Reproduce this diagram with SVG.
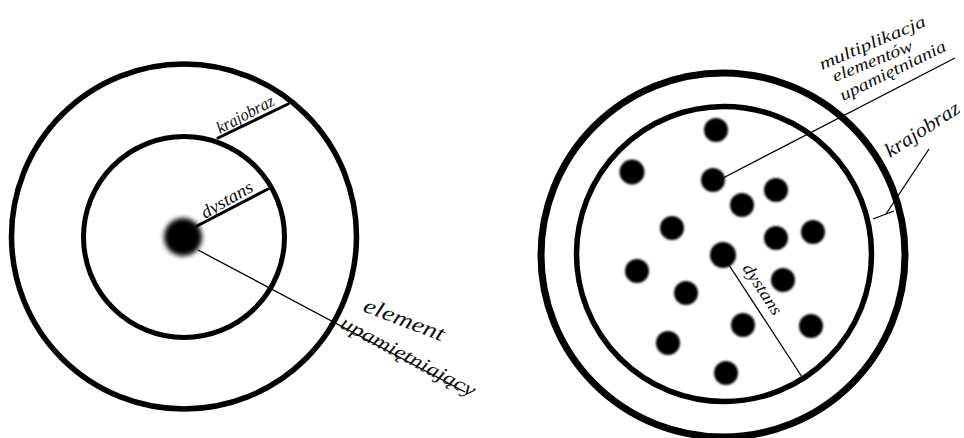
<svg xmlns="http://www.w3.org/2000/svg" width="964" height="438" viewBox="0 0 964 438">
<defs>
<style>
.ring{fill:none;stroke:#000}
.thick{stroke:#000;stroke-width:3;fill:none;stroke-linecap:round}
.thin{stroke:#000;stroke-width:1.3;fill:none}
.hand{font-family:"Liberation Serif","DejaVu Serif",serif;font-style:italic;fill:#111}
.dot{fill:#000}
</style>
<filter id="blurBig" x="-50%" y="-50%" width="200%" height="200%"><feGaussianBlur stdDeviation="2.5"/></filter>
<filter id="blurSmall" x="-50%" y="-50%" width="200%" height="200%"><feGaussianBlur stdDeviation="1.3"/></filter>
</defs>
<rect width="964" height="438" fill="#fff"/>

<g id="left-outer"><circle class="ring" cx="184" cy="236.5" r="172.5" stroke-width="5.5"/></g>
<g id="left-inner"><circle class="ring" cx="184" cy="237" r="100.5" stroke-width="5"/></g>
<g id="left-element"><circle class="dot" cx="183" cy="237" r="19" filter="url(#blurBig)"/></g>

<g id="right-outer"><circle class="ring" cx="723" cy="255" r="182" stroke-width="7"/></g>
<g id="right-inner"><circle class="ring" cx="724" cy="254" r="147.5" stroke-width="5.5"/></g>
<g id="right-elements" filter="url(#blurSmall)">
<circle class="dot" cx="716" cy="130" r="12"/>
<circle class="dot" cx="632" cy="172" r="12.5"/>
<circle class="dot" cx="713" cy="180" r="12"/>
<circle class="dot" cx="776" cy="190" r="12"/>
<circle class="dot" cx="742" cy="205" r="12"/>
<circle class="dot" cx="672" cy="228" r="12"/>
<circle class="dot" cx="776" cy="238" r="12"/>
<circle class="dot" cx="813" cy="232" r="12"/>
<circle class="dot" cx="723" cy="255" r="13"/>
<circle class="dot" cx="637" cy="271" r="12"/>
<circle class="dot" cx="783" cy="280" r="12"/>
<circle class="dot" cx="686" cy="293" r="12"/>
<circle class="dot" cx="743" cy="325" r="12"/>
<circle class="dot" cx="811" cy="326" r="12"/>
<circle class="dot" cx="668" cy="343" r="12"/>
<circle class="dot" cx="726" cy="373" r="12"/>
</g>

<g id="connectors">
<line class="thick" x1="197" y1="226" x2="268" y2="189"/>
<line class="thick" x1="218" y1="138" x2="288" y2="104"/>
<line class="thin" x1="198" y1="250" x2="465" y2="392"/>
<line class="thin" x1="723" y1="178" x2="955" y2="58"/>
<line class="thin" x1="727" y1="262" x2="802" y2="377"/>
<polyline class="thin" points="873,219 894,211"/>
<line class="thin" x1="886" y1="214" x2="929" y2="149"/>
</g>

<g id="labels">
<text class="hand" font-size="17" transform="translate(220,134) rotate(-28)" textLength="63" lengthAdjust="spacingAndGlyphs">krajobraz</text>
<text class="hand" font-size="18" transform="translate(205,219) rotate(-30)" textLength="57" lengthAdjust="spacingAndGlyphs">dystans</text>
<text class="hand" font-size="22" transform="translate(362,311) rotate(21)" textLength="85" lengthAdjust="spacingAndGlyphs">element</text>
<text class="hand" font-size="20" transform="translate(339,327) rotate(28)" textLength="150" lengthAdjust="spacingAndGlyphs">upamiętniający</text>
<text class="hand" font-size="17" transform="translate(822,70) rotate(-23)" textLength="114" lengthAdjust="spacingAndGlyphs">multiplikacja</text>
<text class="hand" font-size="17" transform="translate(835,82) rotate(-22)" textLength="85" lengthAdjust="spacingAndGlyphs">elementów</text>
<text class="hand" font-size="17" transform="translate(843,101) rotate(-26)" textLength="116" lengthAdjust="spacingAndGlyphs">upamiętniania</text>
<text class="hand" font-size="20" transform="translate(890,158) rotate(-33)" textLength="85" lengthAdjust="spacingAndGlyphs">krajobraz</text>
<text class="hand" font-size="17" transform="translate(742,268) rotate(57)" textLength="58" lengthAdjust="spacingAndGlyphs">dystans</text>
</g>
</svg>
